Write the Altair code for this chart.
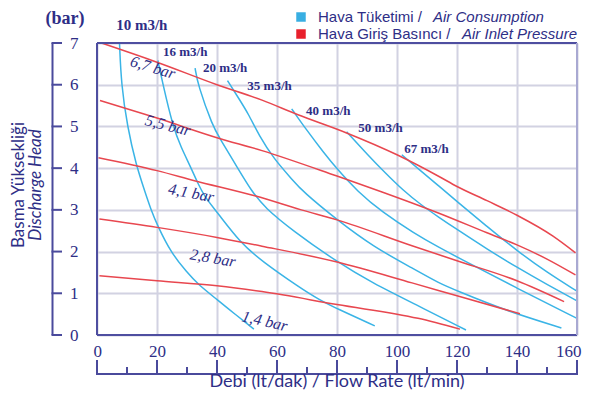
import altair as alt
import pandas as pd

# ---------------- data ----------------
# Air consumption curves (m3/h): flow (lt/min) vs discharge head (bar)
c10_x = [7.5, 8.1, 10.1, 13.1, 15.7, 18.0, 20.3, 24.7, 30.0, 33.6, 40.0, 46.0, 52.3]
c10_y = [7.0, 6.0, 5.0, 4.06, 3.5, 3.0, 2.6, 1.97, 1.5, 1.22, 0.85, 0.5, 0.14]
c16_x = [20.3, 22.0, 25.3, 28.0, 31.4, 33.5, 36.0, 40.0, 47.9, 55.0, 67.5, 74.0, 80.0, 92.6]
c16_y = [6.58, 6.0, 5.0, 4.5, 4.0, 3.65, 3.3, 2.95, 2.2, 1.77, 1.14, 0.85, 0.63, 0.22]
c20_x = [32.7, 33.6, 38.6, 40.8, 46.9, 51.5, 56.0, 64.9, 80.0, 92.0, 105.7, 123.0]
c20_y = [6.4, 6.0, 5.0, 4.73, 4.0, 3.45, 3.05, 2.52, 1.75, 1.24, 0.75, 0.12]
c35_x = [43.5, 47.0, 50.5, 54.0, 59.0, 64.9, 68.7, 80.0, 92.0, 105.7, 114.0, 120.0, 136.0, 154.8]
c35_y = [6.1, 5.7, 5.3, 4.78, 4.22, 3.74, 3.43, 2.76, 2.12, 1.58, 1.24, 1.06, 0.59, 0.17]
c40_x = [64.9, 70.0, 75.6, 80.0, 87.0, 95.0, 105.7, 114.0, 120.0, 140.0, 160.0]
c40_y = [5.42, 4.9, 4.37, 3.98, 3.43, 2.95, 2.44, 2.1, 1.87, 1.12, 0.4]
c50_x = [83.2, 90.0, 96.0, 102.0, 108.0, 114.0, 120.0, 130.0, 140.0, 150.0, 160.0]
c50_y = [4.87, 4.34, 3.89, 3.47, 3.12, 2.82, 2.53, 2.06, 1.62, 1.21, 0.82]
c67_x = [101.6, 108.0, 114.0, 120.0, 130.0, 140.0, 150.0, 160.0]
c67_y = [4.32, 3.93, 3.57, 3.2, 2.6, 2.02, 1.5, 1.05]

# Air inlet pressure curves (bar)
p67_x = [1.5, 20, 40, 55, 67, 83, 100, 114, 120, 130, 140, 152, 159.5]
p67_y = [7.0, 6.54, 6.0, 5.63, 5.28, 4.85, 4.32, 3.8, 3.56, 3.22, 2.87, 2.37, 1.97]
p55_x = [1, 20, 40, 55, 80, 95, 114, 130, 140, 150, 159.5]
p55_y = [5.62, 5.2, 4.73, 4.42, 3.81, 3.43, 2.92, 2.45, 2.16, 1.82, 1.44]
p41_x = [0.5, 20, 32.5, 52.9, 68.1, 80, 105, 120, 140, 155.7]
p41_y = [4.25, 3.94, 3.7, 3.33, 3.0, 2.76, 2.14, 1.78, 1.3, 0.8]
p28_x = [0.8, 20, 40, 55, 80, 105, 120, 141]
p28_y = [2.78, 2.58, 2.34, 2.13, 1.75, 1.25, 0.94, 0.51]
p14_x = [0.8, 20, 40, 55, 80, 107, 121]
p14_y = [1.42, 1.3, 1.18, 1.04, 0.73, 0.4, 0.14]

cons_names = ["10 m3/h", "16 m3/h", "20 m3/h", "35 m3/h", "40 m3/h", "50 m3/h", "67 m3/h"]
cons_lab_x = [6.4, 22.0, 35.3, 50.1, 69.7, 87.1, 102.4]
cons_lab_y = [7.43, 6.78, 6.41, 5.97, 5.36, 4.96, 4.47]
cons_lab_size = [15, 13, 13, 13, 13, 13, 13]

pres_names = ["6,7 bar", "5,5 bar", "4,1 bar", "2,8 bar", "1,4 bar"]
pres_lab_x = [18.6, 23.6, 31.4, 38.6, 55.9]
pres_lab_y = [6.41, 5.02, 3.40, 1.84, 0.33]
pres_lab_angle = [17, 14, 11, 10, 13]

x_ticks = list(range(0, 161, 20))
x_minor = list(range(10, 160, 20))
y_ticks = list(range(0, 8))

# ---------------- style ----------------
BLUE = "#3ab4e6"
RED = "#e8474f"
NAVY = "#2e2e86"
AXC = "#4a4a9c"
GRID = "#d2d2e2"
W, H = 480, 292

rows_c = []
for name, xs_, ys_ in zip(cons_names, [c10_x, c16_x, c20_x, c35_x, c40_x, c50_x, c67_x],
                          [c10_y, c16_y, c20_y, c35_y, c40_y, c50_y, c67_y]):
    for a, b in zip(xs_, ys_):
        rows_c.append({"s": name, "x": a, "y": b})
df_c = pd.DataFrame(rows_c)

rows_p = []
for name, xs_, ys_ in zip(pres_names, [p67_x, p55_x, p41_x, p28_x, p14_x],
                          [p67_y, p55_y, p41_y, p28_y, p14_y]):
    for a, b in zip(xs_, ys_):
        rows_p.append({"s": name, "x": a, "y": b})
df_p = pd.DataFrame(rows_p)

xsc = alt.Scale(domain=[0, 160], nice=False, zero=False)
ysc = alt.Scale(domain=[0, 7], nice=False, zero=False)
xaxis = alt.Axis(values=x_ticks, title=None, grid=True, gridColor=GRID, gridWidth=2,
                 ticks=False, tickSize=0, domain=False, labelFont="Liberation Serif",
                 labelFontSize=17, labelColor=NAVY, labelPadding=8, labelFlush=True,
                 labelFlushOffset=4, labelOverlap=False, format="d")
yaxis = alt.Axis(values=y_ticks, title=None, grid=True, gridColor=GRID, gridWidth=2,
                 ticks=False, tickSize=0, domain=False, labelFont="Liberation Serif",
                 labelFontSize=17, labelColor=NAVY, labelPadding=19, labelFlush=False,
                 labelOverlap=False, format="d")
X = lambda f="x": alt.X(f"{f}:Q", scale=xsc, axis=xaxis)
Y = lambda f="y": alt.Y(f"{f}:Q", scale=ysc, axis=yaxis)

blue = alt.Chart(df_c).mark_line(color=BLUE, strokeWidth=1.5, interpolate="basis").encode(
    x=X(), y=Y(), detail="s:N")
red = alt.Chart(df_p).mark_line(color=RED, strokeWidth=1.5, interpolate="monotone").encode(
    x=X(), y=Y(), detail="s:N")

frame_dark = alt.Chart(pd.DataFrame({
    "x": [0, 0, 0], "x2": [0, 160, 160], "y": [0, 7, 0], "y2": [7, 7, 0]
})).mark_rule(color="#4e4ea0", strokeWidth=2).encode(x=X(), x2="x2:Q", y=Y(), y2="y2:Q")
frame_light = alt.Chart(pd.DataFrame({"x": [160], "x2": [160], "y": [0], "y2": [7]})).mark_rule(
    color="#a9a9d2", strokeWidth=2).encode(x=X(), x2="x2:Q", y=Y(), y2="y2:Q")

# left bracket axis
ybr = alt.Chart(pd.DataFrame({"y": [0], "y2": [7]})).mark_rule(color=AXC, strokeWidth=2).encode(
    x=alt.value(-44.5), y=Y(), y2="y2:Q")
ybr_t = alt.Chart(pd.DataFrame({"y": y_ticks})).mark_rule(color=AXC, strokeWidth=2).encode(
    x=alt.value(-45.5), x2=alt.value(-35), y=Y())

# bottom bracket axis
BR = H + 39
xbr = alt.Chart(pd.DataFrame({"x": [0], "x2": [160]})).mark_rule(color=AXC, strokeWidth=2).encode(
    x=X(), x2="x2:Q", y=alt.value(BR))
xbr_major = alt.Chart(pd.DataFrame({"x": x_ticks})).mark_rule(color=AXC, strokeWidth=2).encode(
    x=X(), y=alt.value(BR - 14), y2=alt.value(BR + 1))
xbr_minor = alt.Chart(pd.DataFrame({"x": x_minor})).mark_rule(color=AXC, strokeWidth=2).encode(
    x=X(), y=alt.value(BR - 7), y2=alt.value(BR + 1))

cons_lab = alt.Chart(pd.DataFrame({"x": cons_lab_x, "y": cons_lab_y, "t": cons_names,
                                   "sz": cons_lab_size})).mark_text(
    align="left", baseline="middle", font="Liberation Serif", fontWeight="bold", color=NAVY).encode(
    x=X(), y=Y(), text="t:N", size=alt.Size("sz:Q", scale=None, legend=None))

pres_lab = alt.Chart(pd.DataFrame({"x": pres_lab_x, "y": pres_lab_y, "t": pres_names,
                                   "a": pres_lab_angle})).mark_text(
    align="center", baseline="middle", font="Liberation Serif", fontStyle="italic",
    fontSize=16, color=NAVY).encode(
    x=X(), y=Y(), text="t:N", angle=alt.Angle("a:Q", scale=None))


def label(txt, x, y, **kw):
    return alt.Chart(pd.DataFrame({"t": [txt]})).mark_text(**kw).encode(
        x=alt.value(x), y=alt.value(y), text="t:N")


SANS = "Lato"
LEG = "Liberation Sans"
unit = label("(bar)", -32, -24, font="Liberation Serif", fontWeight="bold", fontSize=18,
             color=NAVY, align="center", baseline="middle")
xtitle = label("Debi (lt/dak) / Flow Rate (lt/min)", W / 2, H + 46.5, font=SANS, fontSize=18,
               color=NAVY, align="center", baseline="middle")
ytitle1 = label("Basma Yüksekliği", -78, 142, font=SANS, fontSize=17, color=NAVY,
                align="center", baseline="middle", angle=270)
ytitle2 = label("Discharge Head", -61, 142, font=SANS, fontSize=17, fontStyle="italic",
                color=NAVY, align="center", baseline="middle", angle=270)

R1, R2 = -26, -9
sq1 = alt.Chart(pd.DataFrame({"a": [0]})).mark_square(size=90, color="#38aee2", opacity=1).encode(
    x=alt.value(204), y=alt.value(R1))
sq2 = alt.Chart(pd.DataFrame({"a": [0]})).mark_square(size=90, color="#e8202c", opacity=1).encode(
    x=alt.value(204), y=alt.value(R2))
leg1a = label("Hava Tüketimi /", 221, R1, font=LEG, fontSize=15, color=NAVY,
              align="left", baseline="middle")
leg1b = label("Air Consumption", 336, R1, font=LEG, fontSize=15, fontStyle="italic",
              color=NAVY, align="left", baseline="middle")
leg2a = label("Hava Giriş Basıncı /", 221, R2, font=LEG, fontSize=15, color=NAVY,
              align="left", baseline="middle")
leg2b = label("Air Inlet Pressure", 365, R2, font=LEG, fontSize=15, fontStyle="italic",
              color=NAVY, align="left", baseline="middle")

chart = alt.layer(
    blue, red, frame_dark, frame_light, ybr, ybr_t, xbr, xbr_major, xbr_minor,
    cons_lab, pres_lab, unit, xtitle, ytitle1, ytitle2, sq1, sq2, leg1a, leg1b, leg2a, leg2b
).properties(
    width=W, height=H,
    padding={"left": 89, "top": 35, "right": 5, "bottom": 56},
    autosize=alt.AutoSizeParams(type="none"),
    background="white",
).configure_view(stroke=None)

chart.save("out.html", embed_options={"renderer": "svg", "actions": False})
